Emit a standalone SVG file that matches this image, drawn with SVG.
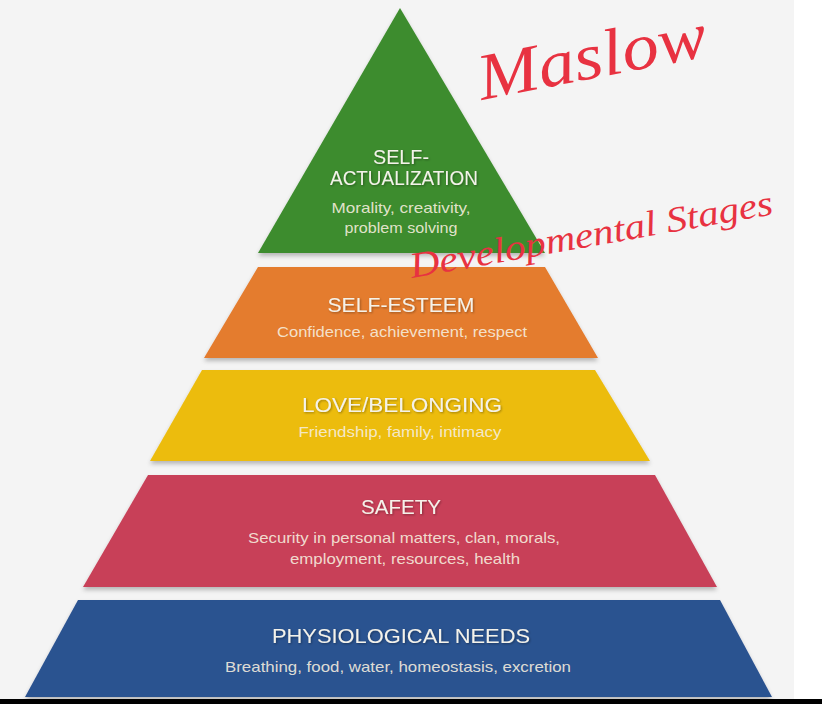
<svg xmlns="http://www.w3.org/2000/svg" width="822" height="704" viewBox="0 0 822 704">
  <defs>
    <filter id="sh" x="-10%" y="-10%" width="120%" height="130%">
      <feGaussianBlur in="SourceAlpha" stdDeviation="2"/>
      <feOffset dx="0" dy="3" result="b"/>
      <feFlood flood-color="#000" flood-opacity="0.25"/>
      <feComposite in2="b" operator="in"/>
      <feMerge><feMergeNode/><feMergeNode in="SourceGraphic"/></feMerge>
    </filter>
    <filter id="tsh" x="-10%" y="-30%" width="120%" height="160%">
      <feGaussianBlur in="SourceAlpha" stdDeviation="1"/>
      <feOffset dx="1" dy="1" result="b"/>
      <feFlood flood-color="#000" flood-opacity="0.35"/>
      <feComposite in2="b" operator="in"/>
      <feMerge><feMergeNode/><feMergeNode in="SourceGraphic"/></feMerge>
    </filter>
  </defs>
  <style>
    .title { font-family: "Liberation Sans", Arial, sans-serif; font-size: 21px; fill: #f4f2ea; text-anchor: middle; }
    .sub { font-family: "Liberation Sans", Arial, sans-serif; font-size: 15px; fill: #f6eedf; fill-opacity: 0.9; text-anchor: middle; }
    .hand { font-family: "Liberation Serif", "DejaVu Serif", serif; font-style: italic; fill: #e83241; }
  </style>
  <rect x="0" y="0" width="822" height="704" fill="#ffffff"/>
  <rect x="0" y="0" width="794" height="699" fill="#f4f4f4"/>
  <rect x="0" y="699" width="822" height="5" fill="#000000"/>

  <g id="self-actualization">
    <polygon points="400,8 545,253 258,253" fill="#3c8c2d" filter="url(#sh)"/>
    <text class="title" x="401" y="164" textLength="56" lengthAdjust="spacingAndGlyphs" filter="url(#tsh)">SELF-</text>
    <text class="title" x="404" y="185" textLength="148" lengthAdjust="spacingAndGlyphs" filter="url(#tsh)">ACTUALIZATION</text>
    <text class="sub" x="401" y="213" textLength="139" lengthAdjust="spacingAndGlyphs">Morality, creativity,</text>
    <text class="sub" x="401" y="233" textLength="113" lengthAdjust="spacingAndGlyphs">problem solving</text>
  </g>

  <g id="self-esteem">
    <polygon points="258,267 545,267 598,358 204,358" fill="#e47b2d" filter="url(#sh)"/>
    <text class="title" x="401" y="312" textLength="147" lengthAdjust="spacingAndGlyphs" filter="url(#tsh)">SELF-ESTEEM</text>
    <text class="sub" x="402" y="337" textLength="250" lengthAdjust="spacingAndGlyphs">Confidence, achievement, respect</text>
  </g>

  <g id="love-belonging">
    <polygon points="202,370 595,370 650,461 150,461" fill="#ecbc0b" filter="url(#sh)"/>
    <text class="title" x="402" y="412" textLength="200" lengthAdjust="spacingAndGlyphs" filter="url(#tsh)">LOVE/BELONGING</text>
    <text class="sub" x="400" y="437" textLength="203" lengthAdjust="spacingAndGlyphs">Friendship, family, intimacy</text>
  </g>

  <g id="safety">
    <polygon points="148,475 655,475 717,587 83,587" fill="#c84058" filter="url(#sh)"/>
    <text class="title" x="401" y="514" textLength="80" lengthAdjust="spacingAndGlyphs" filter="url(#tsh)">SAFETY</text>
    <text class="sub" x="404" y="543" textLength="312" lengthAdjust="spacingAndGlyphs">Security in personal matters, clan, morals,</text>
    <text class="sub" x="405" y="564" textLength="230" lengthAdjust="spacingAndGlyphs">employment, resources, health</text>
  </g>

  <g id="physiological">
    <polygon points="78,600 720,600 772,697 25,697" fill="#2b5290" filter="url(#sh)"/>
    <text class="title" x="401" y="643" textLength="258" lengthAdjust="spacingAndGlyphs" filter="url(#tsh)">PHYSIOLOGICAL NEEDS</text>
    <text class="sub" x="398" y="672" textLength="346" lengthAdjust="spacingAndGlyphs">Breathing, food, water, homeostasis, excretion</text>
  </g>

  <g id="handwriting">
    <text class="hand" x="482" y="100" font-size="66" textLength="232" lengthAdjust="spacingAndGlyphs" transform="rotate(-11 482 100)">Maslow</text>
    <text class="hand" x="412" y="278" font-size="36" textLength="368" lengthAdjust="spacingAndGlyphs" transform="rotate(-10 412 278)">Developmental Stages</text>
  </g>
  <g id="connectors"/>
</svg>
